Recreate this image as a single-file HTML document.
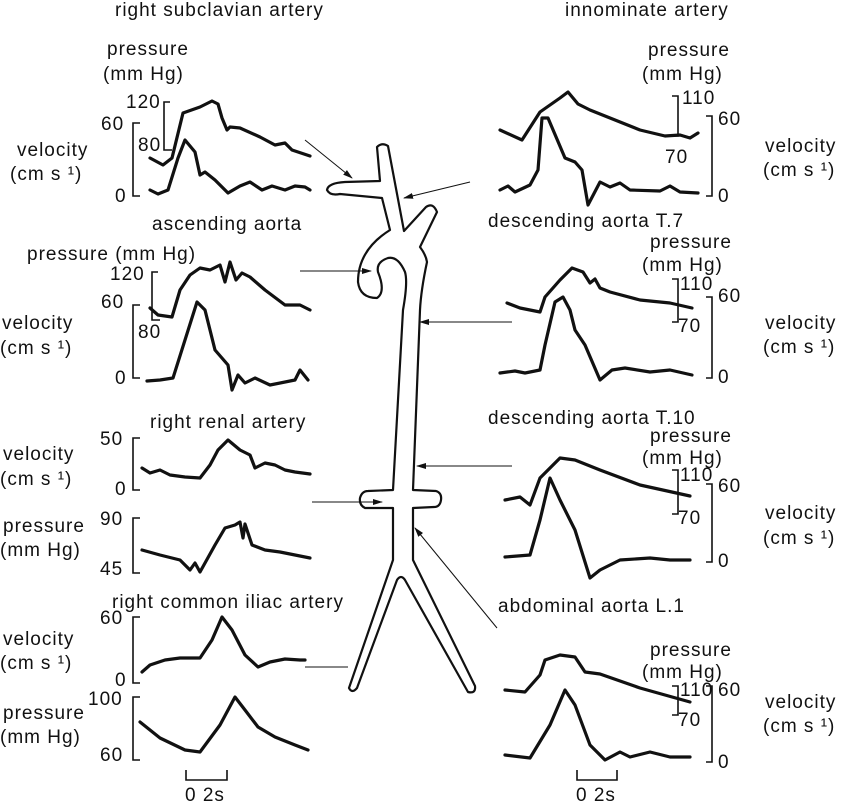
<!DOCTYPE html>
<html><head><meta charset="utf-8"><style>
html,body{margin:0;padding:0;background:#fff;}
svg{display:block}
text{font-family:"Liberation Sans",sans-serif;font-size:19px;fill:#111;letter-spacing:1px}
.w{fill:none;stroke:#111;stroke-width:3.2;stroke-linejoin:round;stroke-linecap:round}
.b{fill:none;stroke:#111;stroke-width:1.6}
.t{fill:none;stroke:#111;stroke-width:1}
</style></head><body>
<svg width="850" height="806" viewBox="0 0 850 806" xmlns="http://www.w3.org/2000/svg">
<defs><marker id="a" markerWidth="10" markerHeight="8" refX="9" refY="4" orient="auto" markerUnits="userSpaceOnUse"><path d="M0,1 L10,4 L0,7 Z" fill="#111"/></marker></defs>

<!-- aorta diagram -->
<path d="M377,147 Q382,142 388,146 L404,231 L426,207 Q433,202 437,212 L420,247 Q426,255 427,262 Q421,290 420,310 L413,490 L436,491 Q442,493 441,500 Q440,507 434,507 L413,508 L413,560 L475,686 Q476,694 468,692 L405,580 Q401,574 397,580 L357,688 Q352,694 349,688 L393,560 L393,508 L365,508 Q359,505 360,498 Q362,491 368,491 L393,490 L403,310 Q408,282 405,272 Q398,256 388,258 Q376,262 378,272 Q386,292 377,298 Q360,298 358,282 Q358,250 390,230 L382,198 L340,194 Q330,196 327,190 Q328,183 345,182 L380,181 Z" fill="#fff" stroke="#111" stroke-width="2.2" stroke-linejoin="round"/>

<!-- connectors -->
<line x1="305" y1="140" x2="352" y2="178" class="t" marker-end="url(#a)"/>
<line x1="470" y1="182" x2="404" y2="198" class="t" marker-end="url(#a)"/>
<line x1="300" y1="271" x2="371" y2="271" class="t" marker-end="url(#a)"/>
<line x1="512" y1="322" x2="420" y2="322" class="t" marker-end="url(#a)"/>
<line x1="512" y1="466" x2="417" y2="466" class="t" marker-end="url(#a)"/>
<line x1="312" y1="502" x2="382" y2="502" class="t" marker-end="url(#a)"/>
<line x1="497" y1="628" x2="415" y2="528" class="t" marker-end="url(#a)"/>
<line x1="305" y1="667" x2="348" y2="667" class="t"/>

<!-- left labels -->
<text x="115" y="16">right subclavian artery</text>
<text x="107" y="55">pressure</text>
<text x="103" y="80">(mm Hg)</text>
<text x="126" y="108">120</text>
<text x="101" y="130">60</text>
<text x="138" y="151">80</text>
<text x="17" y="156">velocity</text>
<text x="10" y="180">(cm s  ¹)</text>
<text x="115" y="202">0</text>
<path class="b" d="M140,123 H133 V196 H140"/>
<path class="b" d="M170,102 H164 V150 H172"/>
<path class="w" d="M150,158 L163,165 L172,158 L183,113 L200,107 L212,101 L218,104 L222,118 L227,130 L230,127 L240,128 L260,137 L275,145 L285,143 L292,150 L310,156"/>
<path class="w" d="M150,190 L158,194 L168,190 L178,158 L185,140 L195,152 L200,175 L205,172 L215,180 L228,193 L240,186 L250,182 L262,190 L272,186 L285,190 L295,186 L305,187 L310,190"/>

<text x="152" y="230">ascending aorta</text>
<text x="27" y="260">pressure (mm Hg)</text>
<text x="110" y="280">120</text>
<text x="101" y="308">60</text>
<text x="138" y="338">80</text>
<text x="2" y="329">velocity</text>
<text x="0" y="354">(cm s  ¹)</text>
<text x="115" y="384">0</text>
<path class="b" d="M140,305 H133 V378 H140"/>
<path class="b" d="M158,272 H152 V320 H160"/>
<path class="w" d="M150,308 L158,315 L172,317 L180,290 L190,275 L200,268 L210,270 L220,265 L225,282 L230,262 L236,280 L242,273 L250,277 L265,290 L285,305 L300,305 L310,310"/>
<path class="w" d="M147,381 L160,380 L173,378 L185,340 L197,302 L205,310 L215,350 L228,365 L232,390 L238,375 L245,383 L255,378 L270,385 L295,380 L300,370 L308,380"/>

<text x="150" y="428">right renal artery</text>
<text x="3" y="460">velocity</text>
<text x="0" y="485">(cm s  ¹)</text>
<text x="100" y="445">50</text>
<text x="115" y="495">0</text>
<path class="b" d="M140,438 H133 V490 H140"/>
<path class="w" d="M142,468 L150,473 L160,470 L170,475 L185,477 L200,478 L210,465 L218,450 L228,440 L240,450 L250,455 L255,468 L265,463 L275,465 L285,470 L295,472 L310,474"/>
<text x="3" y="532">pressure</text>
<text x="0" y="556">(mm Hg)</text>
<text x="100" y="525">90</text>
<text x="100" y="575">45</text>
<path class="b" d="M140,518 H133 V573 H140"/>
<path class="w" d="M142,550 L160,555 L180,560 L190,570 L195,563 L200,572 L205,563 L215,545 L225,528 L235,525 L240,522 L243,538 L245,524 L252,545 L265,550 L280,552 L300,556 L310,558"/>

<text x="112" y="608">right common iliac artery</text>
<text x="3" y="645">velocity</text>
<text x="0" y="669">(cm s  ¹)</text>
<text x="100" y="624">60</text>
<text x="115" y="686">0</text>
<path class="b" d="M140,617 H133 V683 H140"/>
<path class="w" d="M142,672 L150,665 L165,660 L180,658 L200,658 L212,640 L222,617 L232,630 L245,655 L258,667 L270,662 L285,659 L300,660 L305,660"/>
<text x="3" y="719">pressure</text>
<text x="0" y="743">(mm Hg)</text>
<text x="88" y="705">100</text>
<text x="100" y="761">60</text>
<path class="b" d="M140,697 H133 V760 H140"/>
<path class="w" d="M140,722 L160,738 L185,750 L200,752 L220,725 L235,697 L245,710 L258,727 L275,737 L295,745 L308,750"/>
<path class="b" d="M186,770 V780 H227 V770"/>
<text x="185" y="801">0 2s</text>

<!-- right labels -->
<text x="565" y="16">innominate artery</text>
<text x="648" y="56">pressure</text>
<text x="642" y="80">(mm Hg)</text>
<text x="682" y="104">110</text>
<text x="718" y="125">60</text>
<text x="665" y="163">70</text>
<text x="718" y="202">0</text>
<text x="765" y="152">velocity</text>
<text x="763" y="176">(cm s  ¹)</text>
<path class="b" d="M672,96 H678 V136 H672"/>
<path class="b" d="M706,116 H712 V196 H706"/>
<path class="w" d="M500,130 L522,140 L540,112 L560,98 L568,92 L578,104 L590,110 L640,130 L665,136 L680,135 L690,138 L698,133"/>
<path class="w" d="M500,190 L508,186 L515,192 L530,185 L538,170 L542,118 L548,118 L565,158 L575,162 L582,170 L588,205 L600,182 L610,187 L620,183 L630,190 L660,191 L670,186 L680,192 L698,193"/>

<text x="488" y="227">descending aorta T.7</text>
<text x="650" y="248">pressure</text>
<text x="642" y="271">(mm Hg)</text>
<text x="680" y="290">110</text>
<text x="718" y="302">60</text>
<text x="678" y="332">70</text>
<text x="718" y="383">0</text>
<text x="765" y="329">velocity</text>
<text x="763" y="353">(cm s  ¹)</text>
<path class="b" d="M672,279 H678 V322 H672"/>
<path class="b" d="M706,297 H712 V378 H706"/>
<path class="w" d="M507,303 L520,308 L540,312 L545,297 L560,280 L572,268 L583,272 L590,283 L595,279 L600,288 L610,292 L640,300 L670,303 L692,308"/>
<path class="w" d="M500,373 L515,371 L525,373 L540,370 L545,345 L555,302 L563,297 L570,310 L575,330 L585,345 L600,380 L612,370 L625,368 L650,372 L670,370 L692,375"/>

<text x="488" y="424">descending aorta T.10</text>
<text x="650" y="442">pressure</text>
<text x="642" y="464">(mm Hg)</text>
<text x="680" y="481">110</text>
<text x="718" y="492">60</text>
<text x="678" y="524">70</text>
<text x="718" y="567">0</text>
<text x="765" y="519">velocity</text>
<text x="763" y="544">(cm s  ¹)</text>
<path class="b" d="M672,470 H678 V514 H672"/>
<path class="b" d="M706,484 H712 V562 H706"/>
<path class="w" d="M505,500 L520,497 L530,505 L540,478 L548,470 L560,458 L575,460 L600,470 L640,485 L690,496"/>
<path class="w" d="M505,557 L530,555 L540,520 L550,478 L560,500 L575,530 L590,578 L600,570 L620,560 L650,558 L670,560 L690,560"/>

<text x="498" y="612">abdominal aorta L.1</text>
<text x="650" y="656">pressure</text>
<text x="642" y="678">(mm Hg)</text>
<text x="680" y="696">110</text>
<text x="718" y="696">60</text>
<text x="678" y="726">70</text>
<text x="718" y="768">0</text>
<text x="765" y="708">velocity</text>
<text x="763" y="732">(cm s  ¹)</text>
<path class="b" d="M672,686 H678 V715 H672"/>
<path class="b" d="M706,686 H712 V762 H706"/>
<path class="w" d="M505,690 L525,692 L540,675 L545,660 L560,655 L575,657 L585,672 L600,674 L640,688 L690,702"/>
<path class="w" d="M505,755 L530,758 L550,725 L565,690 L575,705 L590,745 L605,760 L620,752 L630,757 L650,752 L670,757 L690,757"/>
<path class="b" d="M577,770 V780 H617 V770"/>
<text x="576" y="801">0 2s</text>
</svg>
</body></html>
